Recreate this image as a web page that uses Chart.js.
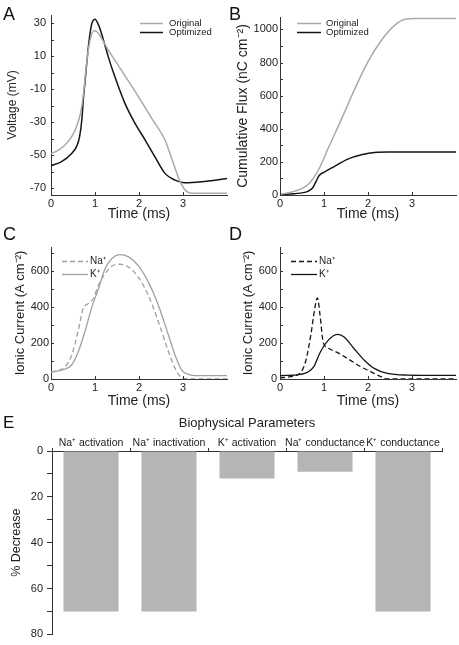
<!DOCTYPE html>
<html><head><meta charset="utf-8">
<script src="https://cdn.jsdelivr.net/npm/chart.js@4/dist/chart.umd.min.js"></script>
<style>
html,body{margin:0;padding:0;background:#fff;}
#wrap{position:relative;width:459px;height:645px;overflow:hidden;background:#fff;}
canvas{position:absolute;left:0;top:0;}
</style></head><body>
<div id="wrap">
<canvas id="cA" width="459" height="645"></canvas>
<canvas id="cB" width="459" height="645"></canvas>
<canvas id="cC" width="459" height="645"></canvas>
<canvas id="cD" width="459" height="645"></canvas>
<canvas id="cE" width="459" height="645"></canvas>
</div>
<script>
// ---------- Panel A: voltage (mV) vs time (ms)
const tA_orig = [0, 0.17, 0.32, 0.47, 0.58, 0.67, 0.74, 0.8, 0.86, 0.92, 0.98, 1.05, 1.15, 1.3, 1.5, 1.76, 2.0, 2.3, 2.59, 2.78, 2.92, 3.05, 3.2, 4.0];
const vA_orig = [-49, -46.8, -43.7, -38.7, -32.6, -24.5, -12.4, 3.7, 15.9, 22.9, 25.4, 24.7, 20.9, 13.8, 5.7, -5, -15, -28, -40.7, -54.8, -65, -71, -73, -73];
const tA_opt = [0, 0.24, 0.47, 0.58, 0.65, 0.70, 0.74, 0.77, 0.85, 0.92, 1.0, 1.08, 1.19, 1.30, 1.45, 1.68, 1.91, 2.14, 2.36, 2.59, 2.82, 3.05, 3.42, 4.0];
const vA_opt = [-56.3, -53.8, -48.8, -44.7, -38.7, -28.6, -14.4, -6.4, 15.9, 29, 32.5, 29, 20, 9.8, -2.3, -18.5, -30.6, -40.7, -50.8, -60.9, -65, -66.6, -66, -64];
const yTicksA = [-70, -50, -30, -10, 10, 30];
const yMinorA = [-60, -40, -20, 0, 20];

// ---------- Panel B: cumulative flux (nC cm-2)
const tB_orig = [0, 0.32, 0.63, 0.85, 1.0, 1.08, 1.39, 1.69, 2.0, 2.31, 2.61, 2.84, 3.07, 4.0];
const fB_orig = [3, 22, 62, 140, 223, 273, 454, 635, 805, 936, 1026, 1062, 1066, 1066];
const tB_opt = [0, 0.32, 0.63, 0.74, 0.82, 0.89, 1.0, 1.24, 1.54, 1.85, 2.15, 2.46, 4.0];
const fB_opt = [3, 8, 22, 42, 82, 118, 137, 173, 217, 243, 257, 259, 259];
const yTicksB = [0, 200, 400, 600, 800, 1000];
const yMinorB = [100, 300, 500, 700, 900];

// ---------- Panel C: original ionic currents (A cm-2)
const tC_Na = [0, 0.32, 0.47, 0.62, 0.73, 0.85, 0.96, 1.08, 1.23, 1.38, 1.57, 1.76, 1.98, 2.21, 2.44, 2.67, 2.82, 2.97, 3.12, 4.0];
const iC_Na = [37, 69, 133, 270, 393, 420, 448, 522, 587, 628, 639, 624, 569, 467, 319, 152, 59, 7, 0, 0];
const tC_K = [0, 0.24, 0.47, 0.62, 0.77, 0.92, 1.08, 1.23, 1.38, 1.57, 1.76, 1.98, 2.21, 2.44, 2.67, 2.82, 2.97, 3.12, 3.35, 4.0];
const iC_K = [37, 50, 78, 152, 263, 393, 504, 615, 670, 693, 680, 633, 541, 411, 244, 133, 50, 26, 19, 19];

// ---------- Panel D: optimized ionic currents (A cm-2)
const tD_Na = [0, 0.24, 0.47, 0.58, 0.70, 0.79, 0.85, 0.91, 0.98, 1.08, 1.30, 1.53, 1.83, 2.06, 2.29, 2.44, 4.0];
const iD_Na = [7, 13, 37, 96, 244, 393, 452, 356, 207, 174, 148, 115, 69, 41, 13, 0, 0];
const tD_K = [0, 0.47, 0.62, 0.77, 0.92, 1.08, 1.30, 1.45, 1.68, 1.91, 2.14, 2.44, 2.89, 4.0];
const iD_K = [19, 26, 37, 69, 152, 211, 248, 235, 170, 106, 59, 31, 22, 20];
const yTicksCD = [0, 200, 400, 600];
const yMinorCD = [100, 300, 500, 700];

const xTicks = [0, 1, 2, 3];

// ---------- Panel E: biophysical parameters
const params = ['Na\u207A activation', 'Na\u207A inactivation', 'K\u207A activation', 'Na\u207A conductance', 'K\u207A conductance'];
const decrease = [70, 70, 12, 9, 70];

// ---------- styles
const FONT = '"Liberation Sans", Arial, Helvetica, sans-serif';
const TXT = '#222';
const AXIS = '#333';
const GRAY = '#aaaaaa';
const BLACK = '#151515';
const BAR = '#b4b5b7';

function zip(xs, ys) { return xs.map((x, i) => ({x: x, y: ys[i]})); }

const decor = {
  id: 'decor',
  afterDraw(chart, args, o) {
    const ctx = chart.ctx;
    ctx.save();
    if (o.inner) {
      const xs = chart.scales.x, ys = chart.scales.y;
      ctx.strokeStyle = AXIS; ctx.lineWidth = 1;
      ctx.beginPath();
      o.inner.y.forEach(v => {
        const py = Math.round(ys.getPixelForValue(v)) + 0.5;
        ctx.moveTo(xs.left, py); ctx.lineTo(xs.left + 3, py);
      });
      o.inner.x.forEach(v => {
        const px = Math.round(xs.getPixelForValue(v)) + 0.5;
        ctx.moveTo(px, ys.bottom); ctx.lineTo(px, ys.bottom - 3);
      });
      ctx.stroke();
    }
    if (o.legend) {
      const L = o.legend;
      ctx.font = L.size + 'px ' + FONT;
      ctx.textBaseline = 'middle';
      ctx.textAlign = 'left';
      chart.data.datasets.forEach((ds, i) => {
        const y = L.rows[i] + 0.5;
        ctx.strokeStyle = ds.borderColor;
        ctx.lineWidth = ds.borderWidth;
        ctx.setLineDash(ds.borderDash || []);
        ctx.beginPath(); ctx.moveTo(L.x0, y); ctx.lineTo(L.x1, y); ctx.stroke();
        ctx.setLineDash([]);
        ctx.fillStyle = TXT;
        ctx.fillText(ds.label, L.tx, L.rows[i]);
      });
    }
    if (o.letter) {
      ctx.font = o.letter.size + 'px ' + FONT;
      ctx.fillStyle = '#111';
      ctx.textBaseline = 'alphabetic';
      ctx.textAlign = 'left';
      ctx.fillText(o.letter.text, o.letter.x, o.letter.y);
    }
    ctx.restore();
  }
};

function lineChart(id, c) {
  return new Chart(document.getElementById(id), {
    type: 'line',
    data: {datasets: c.datasets},
    options: {
      responsive: false, animation: false, devicePixelRatio: 1,
      layout: {padding: c.pad},
      plugins: {legend: {display: false}, tooltip: {enabled: false}, decor: c.decor},
      elements: {point: {radius: 0}, line: {cubicInterpolationMode: 'monotone'}},
      scales: {
        x: {
          type: 'linear', min: 0, max: 4,
          afterBuildTicks: s => { s.ticks = xTicks.map(v => ({value: v})); },
          afterFit: s => { s.height = c.xH; },
          grid: {display: false, drawTicks: false},
          border: {display: true, color: AXIS, width: 1},
          ticks: {padding: 2, color: TXT, font: {family: FONT, size: 11}, callback: v => String(v), maxRotation: 0, autoSkip: false},
          title: {display: true, text: 'Time (ms)', color: TXT, font: {family: FONT, size: 14}, padding: {top: 0, bottom: 0}}
        },
        y: {
          type: 'linear', min: c.yMin, max: c.yMax,
          afterBuildTicks: s => { s.ticks = c.yTicks.map(v => ({value: v})); },
          afterFit: s => { s.width = c.yW; },
          grid: {display: false, drawTicks: false},
          border: {display: true, color: AXIS, width: 1},
          ticks: {padding: c.yPad, color: TXT, font: {family: FONT, size: 11}, callback: v => String(v), autoSkip: false},
          title: {display: true, text: c.yTitle, color: TXT, font: {family: FONT, size: c.yTitleSize}, padding: {top: c.yTitlePad, bottom: 0}}
        }
      }
    },
    plugins: [decor]
  });
}

// Panel A
lineChart('cA', {
  datasets: [
    {label: 'Original', data: zip(tA_orig, vA_orig), borderColor: GRAY, borderWidth: 1.5, fill: false},
    {label: 'Optimized', data: zip(tA_opt, vA_opt), borderColor: BLACK, borderWidth: 1.5, fill: false}
  ],
  pad: {left: 0, top: 15, right: 232, bottom: 422},
  xH: 28, yW: 51, yMin: -74, yMax: 35, yTicks: yTicksA, yPad: 5,
  yTitle: 'Voltage (mV)', yTitleSize: 12, yTitlePad: 5,
  decor: {inner: {y: yTicksA.concat(yMinorA), x: xTicks},
          legend: {x0: 140, x1: 163, tx: 169, rows: [23, 32], size: 9.5},
          letter: {text: 'A', x: 3, y: 20, size: 18}}
});

// Panel B
lineChart('cB', {
  datasets: [
    {label: 'Original', data: zip(tB_orig, fB_orig), borderColor: GRAY, borderWidth: 1.5, fill: false},
    {label: 'Optimized', data: zip(tB_opt, fB_opt), borderColor: BLACK, borderWidth: 1.5, fill: false}
  ],
  pad: {left: 229, top: 17, right: 3, bottom: 422},
  xH: 28, yW: 51, yMin: 0, yMax: 1075, yTicks: yTicksB, yPad: 2,
  yTitle: 'Cumulative Flux (nC cm\u207B\u00B2)', yTitleSize: 14, yTitlePad: 6,
  decor: {inner: {y: yTicksB.concat(yMinorB), x: xTicks},
          legend: {x0: 297, x1: 321, tx: 326, rows: [23, 32], size: 9.5},
          letter: {text: 'B', x: 229, y: 20, size: 18}}
});

// Panel C
lineChart('cC', {
  datasets: [
    {label: 'Na\u207A', data: zip(tC_Na, iC_Na), borderColor: '#a0a0a0', borderWidth: 1.3, borderDash: [5, 3], fill: false},
    {label: 'K\u207A', data: zip(tC_K, iC_K), borderColor: '#a0a0a0', borderWidth: 1.3, fill: false}
  ],
  pad: {left: 0, top: 247, right: 232, bottom: 235},
  xH: 31, yW: 51, yMin: 0, yMax: 735, yTicks: yTicksCD, yPad: 2,
  yTitle: 'Ionic Current (A cm\u207B\u00B2)', yTitleSize: 13, yTitlePad: 13,
  decor: {inner: {y: yTicksCD.concat(yMinorCD), x: xTicks},
          legend: {x0: 62, x1: 88, tx: 90, rows: [261, 274], size: 10},
          letter: {text: 'C', x: 3, y: 240, size: 18}}
});

// Panel D
lineChart('cD', {
  datasets: [
    {label: 'Na\u207A', data: zip(tD_Na, iD_Na), borderColor: BLACK, borderWidth: 1.3, borderDash: [5, 3], fill: false},
    {label: 'K\u207A', data: zip(tD_K, iD_K), borderColor: BLACK, borderWidth: 1.3, fill: false}
  ],
  pad: {left: 229, top: 247, right: 3, bottom: 235},
  xH: 31, yW: 51, yMin: 0, yMax: 735, yTicks: yTicksCD, yPad: 3,
  yTitle: 'Ionic Current (A cm\u207B\u00B2)', yTitleSize: 13, yTitlePad: 12,
  decor: {inner: {y: yTicksCD.concat(yMinorCD), x: xTicks},
          legend: {x0: 291, x1: 317, tx: 319, rows: [261, 274], size: 10},
          letter: {text: 'D', x: 229, y: 240, size: 18}}
});

// Panel E
new Chart(document.getElementById('cE'), {
  type: 'bar',
  data: {labels: params, datasets: [{data: decrease, backgroundColor: BAR, borderWidth: 0, barPercentage: 0.705, categoryPercentage: 1}]},
  options: {
    responsive: false, animation: false, devicePixelRatio: 1,
    layout: {padding: {left: 0, top: 411, right: 17, bottom: 7}},
    plugins: {legend: {display: false}, tooltip: {enabled: false},
              decor: {letter: {text: 'E', x: 3, y: 428, size: 17}}},
    scales: {
      x: {
        position: 'top',
        afterFit: s => { s.height = 40; },
        grid: {display: true, drawOnChartArea: false, drawTicks: true, tickLength: 3, color: AXIS, offset: true},
        border: {display: true, color: AXIS, width: 1},
        ticks: {padding: 0, color: TXT, font: {family: FONT, size: 10.5, lineHeight: 1}, autoSkip: false, maxRotation: 0},
        title: {display: true, text: 'Biophysical Parameters', color: TXT, font: {family: FONT, size: 13}, padding: {top: 5, bottom: 0}}
      },
      y: {
        reverse: true, min: 0, max: 80,
        afterFit: s => { s.width = 52; },
        grid: {display: true, drawOnChartArea: false, drawTicks: true, tickLength: 5, color: AXIS},
        border: {display: true, color: AXIS, width: 1},
        ticks: {stepSize: 10, padding: 4, color: TXT, font: {family: FONT, size: 11}, autoSkip: false,
                callback: v => (v % 20 === 0 ? String(v) : '')},
        title: {display: true, text: '% Decrease', color: TXT, font: {family: FONT, size: 12.5}, padding: {top: 9.5, bottom: 0}}
      }
    }
  },
  plugins: [decor]
});
</script>
</body></html>
